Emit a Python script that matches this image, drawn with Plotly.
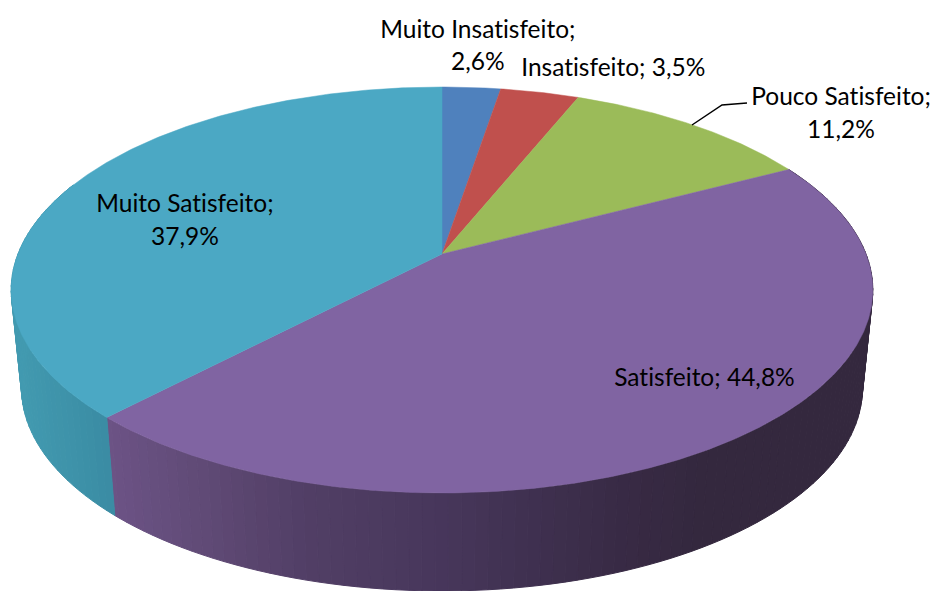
import numpy as np
import plotly.graph_objects as go

categories = ["Muito Insatisfeito", "Insatisfeito", "Pouco Satisfeito", "Satisfeito", "Muito Satisfeito"]
values = [2.6, 3.5, 11.2, 44.8, 37.9]
top_colors = ["#4F81BD", "#C0504D", "#9BBB59", "#8064A2", "#4BA8C4"]

# Projection of the pie disc (perspective view) in page pixels
CX, CY = 442.0, 254.0
A, B, K = 424.0, 196.6, -0.1773
DEPTH, SHRINK = 98.0, 0.976


def project(theta_deg, bottom=False):
    t = np.radians(theta_deg)
    u, v = np.sin(t), -np.cos(t)
    d = 1 + K * v
    x = A * u / d
    y = CY + B * v / d
    if bottom:
        return CX + x * SHRINK, y + DEPTH
    return CX + x, y


def lerp_color(stops, x):
    xs = [s[0] for s in stops]
    rgb = [np.interp(x, xs, [s[1][i] for s in stops]) for i in range(3)]
    return "rgb(%d,%d,%d)" % tuple(round(c) for c in rgb)


side_stops = {
    3: [(105, (108, 83, 134)), (200, (96, 74, 118)), (300, (82, 63, 102)),
        (450, (70, 54, 90)), (630, (56, 42, 68)), (700, (52, 40, 62)), (935, (52, 40, 62))],
    4: [(15, (66, 154, 176)), (110, (58, 139, 163))],
}

fig = go.Figure()
edges = np.concatenate([[0], np.cumsum(values)]) / sum(values) * 360.0

# Side wall: narrow shaded strips for the slices that face the viewer
for i in (3, 4):
    a0, a1 = edges[i], edges[i + 1]
    if i == 4:
        a1 = min(a1, 292)
    steps = np.arange(a0, a1, 1.5).tolist() + [a1]
    for s0, s1 in zip(steps[:-1], steps[1:]):
        th = np.linspace(s0, s1, 3)
        xt, yt = project(th)
        xb, yb = project(th[::-1], bottom=True)
        c = lerp_color(side_stops[i], float(xt.mean()))
        fig.add_trace(go.Scatter(
            x=np.concatenate([xt, xb, xt[:1]]), y=np.concatenate([yt, yb, yt[:1]]),
            mode="lines", fill="toself", fillcolor=c, line=dict(color=c, width=1),
            hoverinfo="skip", showlegend=False))

# Top face
for i, name in enumerate(categories):
    th = np.linspace(edges[i], edges[i + 1], max(8, int(values[i] * 8)))
    x, y = project(th)
    fig.add_trace(go.Scatter(
        x=np.concatenate([[CX], x, [CX]]), y=np.concatenate([[CY], y, [CY]]),
        mode="lines", fill="toself", fillcolor=top_colors[i],
        line=dict(color=top_colors[i], width=0.5), name=name, showlegend=False,
        hovertemplate=name + ": %{text}<extra></extra>",
        text=[f"{values[i]}%"] * (len(th) + 2)))


def pct(i):
    return f"{values[i]:.1f}".replace(".", ",") + "%"


labels = [
    (f"{categories[0]};", 477.5, 28), (pct(0), 477.5, 60),
    (f"{categories[1]}; {pct(1)}", 613, 66),
    (f"{categories[2]};", 841, 95), (pct(2), 841, 128),
    (f"{categories[4]};", 184.5, 202), (pct(4), 184.5, 235),
    (f"{categories[3]}; {pct(3)}", 704.5, 376),
]
for text, x, y in labels:
    fig.add_annotation(x=x, y=y, text=text, showarrow=False, xanchor="center", yanchor="middle",
                       font=dict(family="Lato", size=24.5, color="#000000"))

fig.update_layout(
    width=935, height=591, margin=dict(l=0, r=0, t=0, b=0),
    paper_bgcolor="#FFFFFF", plot_bgcolor="#FFFFFF", showlegend=False,
    xaxis=dict(range=[0, 935], visible=False, fixedrange=True),
    yaxis=dict(range=[591, 0], visible=False, fixedrange=True),
    shapes=[dict(type="path", path="M692,125 L722,105 L747,103",
                 line=dict(color="#000000", width=1.5))],
)
fig.write_html(
    "out.html", config={"displayModeBar": False},
    post_script="document.body.style.margin='0';document.body.style.overflow='hidden';"
                "var s=document.createElement('style');"
                "s.textContent='text{font-variant-ligatures:none !important;font-feature-settings:\"liga\" 0 !important;}';"
                "document.head.appendChild(s);")
